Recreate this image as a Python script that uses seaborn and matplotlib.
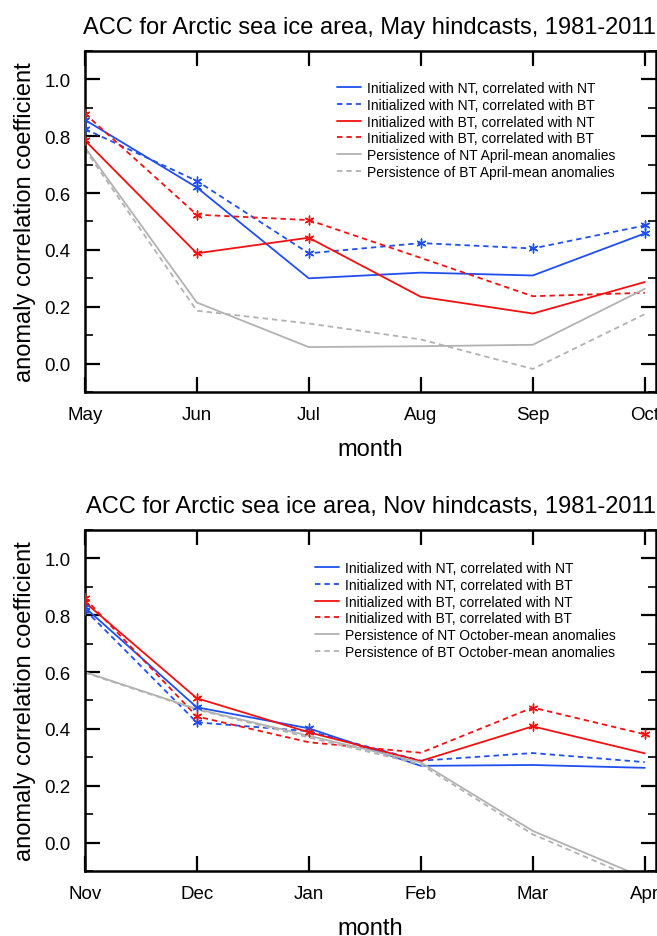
import matplotlib
matplotlib.use("Agg")
import matplotlib.pyplot as plt
import seaborn as sns
import numpy as np
import pandas as pd
from matplotlib.ticker import MultipleLocator

sns.set_theme(style="white")
plt.rcParams['font.family'] = ['Liberation Sans', 'DejaVu Sans']
plt.rcParams['text.color'] = 'black'
plt.rcParams['axes.labelcolor'] = 'black'
plt.rcParams['xtick.color'] = 'black'
plt.rcParams['ytick.color'] = 'black'

# ---------------- data ----------------
may_months = ["May", "Jun", "Jul", "Aug", "Sep", "Oct"]
nov_months = ["Nov", "Dec", "Jan", "Feb", "Mar", "Apr"]

may_labels = ["Initialized with NT, correlated with NT",
              "Initialized with NT, correlated with BT",
              "Initialized with BT, correlated with NT",
              "Initialized with BT, correlated with BT",
              "Persistence of NT April-mean anomalies",
              "Persistence of BT April-mean anomalies"]
nov_labels = ["Initialized with NT, correlated with NT",
              "Initialized with NT, correlated with BT",
              "Initialized with BT, correlated with NT",
              "Initialized with BT, correlated with BT",
              "Persistence of NT October-mean anomalies",
              "Persistence of BT October-mean anomalies"]

may_nt_nt = [0.858, 0.620, 0.300, 0.320, 0.310, 0.458]
may_nt_bt = [0.826, 0.643, 0.388, 0.424, 0.405, 0.486]
may_bt_nt = [0.786, 0.388, 0.443, 0.235, 0.176, 0.287]
may_bt_bt = [0.880, 0.524, 0.505, 0.372, 0.237, 0.249]
may_pers_nt = [0.762, 0.215, 0.058, 0.061, 0.066, 0.263]
may_pers_bt = [0.755, 0.186, 0.141, 0.085, -0.019, 0.174]
# significance markers (1 = asterisk drawn)
may_sig_nt_nt = [1, 1, 0, 0, 0, 1]
may_sig_nt_bt = [1, 1, 1, 1, 1, 1]
may_sig_bt_nt = [1, 1, 1, 0, 0, 0]
may_sig_bt_bt = [1, 1, 1, 0, 0, 0]

nov_nt_nt = [0.828, 0.476, 0.402, 0.270, 0.273, 0.263]
nov_nt_bt = [0.820, 0.423, 0.392, 0.288, 0.315, 0.283]
nov_bt_nt = [0.846, 0.508, 0.388, 0.287, 0.409, 0.314]
nov_bt_bt = [0.860, 0.444, 0.353, 0.316, 0.475, 0.381]
nov_pers_nt = [0.600, 0.470, 0.376, 0.282, 0.041, -0.125]
nov_pers_bt = [0.598, 0.468, 0.370, 0.275, 0.029, -0.140]
nov_sig_nt_nt = [1, 1, 1, 0, 0, 0]
nov_sig_nt_bt = [1, 1, 0, 0, 0, 0]
nov_sig_bt_nt = [1, 1, 1, 0, 1, 0]
nov_sig_bt_bt = [1, 1, 0, 0, 1, 1]

titles = ["ACC for Arctic sea ice area, May hindcasts, 1981-2011",
          "ACC for Arctic sea ice area, Nov hindcasts, 1981-2011"]

BLUE = "#1f4ff0"
RED = "#f21010"
GRAY = "#b2b2b2"

fig = plt.figure(figsize=(6.57, 9.37), dpi=100)
ax1 = fig.add_axes([0.129, 0.5806, 0.8695, 0.3639])
ax2 = fig.add_axes([0.129, 0.0694, 0.8695, 0.3639])

asterisk = (6, 2, 0)


def draw(ax, months, series, sigs, labels, title, legend_x, legend_y):
    x = np.arange(len(months))
    colors = [BLUE, BLUE, RED, RED, GRAY, GRAY]
    styles = ["-", (0, (3, 2.2)), "-", (0, (3, 2.2)), "-", (0, (3, 2.2))]
    for i, (vals, lab) in enumerate(zip(series, labels)):
        df = pd.DataFrame({"x": x, "y": vals})
        sns.lineplot(data=df, x="x", y="y", ax=ax, color=colors[i],
                     linestyle=styles[i], linewidth=1.3, label=lab,
                     estimator=None, sort=False)
        if i < 4:
            m = np.array(sigs[i], dtype=bool)
            ax.scatter(x[m], np.array(vals)[m], marker=asterisk, s=40,
                       color=colors[i], linewidths=1.0, zorder=5)
    ax.set_xlim(0, 5.1)
    ax.set_xticks(x)
    ax.set_xticklabels(months)
    ax.yaxis.set_major_locator(MultipleLocator(0.2))
    ax.yaxis.set_minor_locator(MultipleLocator(0.1))
    ax.set_ylim(-0.1, 1.1)
    ax.set_yticks([0.0, 0.2, 0.4, 0.6, 0.8, 1.0])
    ax.set_yticklabels(["0.0", "0.2", "0.4", "0.6", "0.8", "1.0"])
    ax.set_ylim(-0.1, 1.1)
    ax.tick_params(axis="both", which="major", direction="in", length=11,
                   width=1.6, labelsize=13.5, top=True, right=True,
                   bottom=True, left=True, pad=10, color="black")
    ax.tick_params(axis="y", which="minor", direction="in", length=5.5,
                   width=1.2, left=True, right=True)
    for sp in ax.spines.values():
        sp.set_linewidth(1.8)
        sp.set_color("black")
    ax.set_xlabel("month", fontsize=17, labelpad=11)
    ax.set_ylabel("anomaly correlation coefficient", fontsize=17, labelpad=6)
    ax.set_title(title, fontsize=17, loc="right", pad=13)
    leg = ax.legend(loc="upper left", bbox_to_anchor=(legend_x, legend_y),
                    frameon=False, fontsize=10, handlelength=1.75,
                    handletextpad=0.4, labelspacing=0.2, borderaxespad=0,
                    borderpad=0)
    return leg


draw(ax1, may_months,
     [may_nt_nt, may_nt_bt, may_bt_nt, may_bt_bt, may_pers_nt, may_pers_bt],
     [may_sig_nt_nt, may_sig_nt_bt, may_sig_bt_nt, may_sig_bt_bt],
     may_labels, titles[0], 0.441, 0.912)
draw(ax2, nov_months,
     [nov_nt_nt, nov_nt_bt, nov_bt_nt, nov_bt_bt, nov_pers_nt, nov_pers_bt],
     [nov_sig_nt_nt, nov_sig_nt_bt, nov_sig_bt_nt, nov_sig_bt_bt],
     nov_labels, titles[1], 0.403, 0.909)

fig.savefig("out.png", dpi=100)
